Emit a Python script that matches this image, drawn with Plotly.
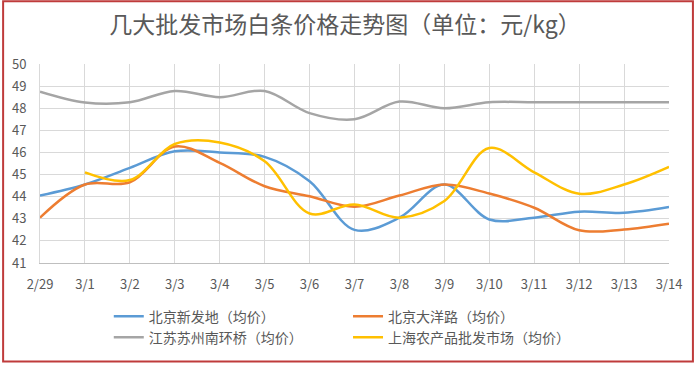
import plotly.graph_objects as go

dates = ["2/29", "3/1", "3/2", "3/3", "3/4", "3/5", "3/6", "3/7", "3/8", "3/9", "3/10", "3/11", "3/12", "3/13", "3/14"]
xinfadi = [44.05, 44.55, 45.3, 46.05, 46.0, 45.8, 44.7, 42.5, 43.05, 44.55, 42.97, 43.05, 43.32, 43.27, 43.53]
dayanglu = [43.05, 44.55, 44.65, 46.27, 45.53, 44.47, 44.02, 43.54, 44.05, 44.55, 44.14, 43.5, 42.48, 42.52, 42.78]
nanhuanqiao = [48.75, 48.26, 48.27, 48.78, 48.5, 48.78, 47.78, 47.5, 48.3, 48.0, 48.27, 48.27, 48.27, 48.27, 48.27]
shanghai = [None, 45.1, 44.75, 46.38, 46.45, 45.6, 43.24, 43.65, 43.05, 43.8, 46.2, 45.1, 44.13, 44.55, 45.35]

names = ["北京新发地（均价）", "北京大洋路（均价）", "江苏苏州南环桥（均价）", "上海农产品批发市场（均价）"]
colors = ["#5B9BD5", "#ED7D31", "#A5A5A5", "#FFC000"]
series = [xinfadi, dayanglu, nanhuanqiao, shanghai]
legends = ["legend", "legend2", "legend3", "legend4"]

FONT = "Noto Sans CJK SC"
fig = go.Figure()
for name, col, ys, lg in zip(names, colors, series, legends):
    fig.add_trace(go.Scatter(
        x=list(range(len(dates))), y=ys, name=name, mode="lines",
        line=dict(color=col, width=2.5, shape="spline", smoothing=1),
        connectgaps=False, legend=lg, showlegend=True,
    ))

W, H = 696, 365
L, R, T, B = 38, 27, 64, 101
pw, ph = W - L - R, H - T - B

def px_x(p):
    return (p - L) / pw

def px_y(p):
    return (H - B - p) / ph

def leg(xp, yp):
    return dict(
        orientation="h", x=px_x(xp), y=px_y(yp), xanchor="left", yanchor="middle",
        font=dict(family=FONT, size=14, color="#595959"),
        bgcolor="rgba(0,0,0,0)", borderwidth=0, visible=True,
    )

fig.update_layout(
    width=W, height=H, showlegend=True,
    margin=dict(l=L, r=R, t=T, b=B),
    paper_bgcolor="white", plot_bgcolor="white",
    title=dict(text="几大批发市场白条价格走势图（单位：元/kg）", x=345 / W, xanchor="center",
               y=1 - 25 / H, yanchor="middle",
               font=dict(family=FONT, size=23, color="#595959")),
    xaxis=dict(tickmode="array", tickvals=list(range(len(dates))), ticktext=dates,
               range=[0, len(dates) - 1], showgrid=True, gridcolor="#D9D9D9", gridwidth=1,
               showline=True, linecolor="#BFBFBF", linewidth=1, zeroline=False,
               ticks="", ticklabelstandoff=9,
               tickfont=dict(family=FONT, size=13, color="#595959")),
    yaxis=dict(range=[41, 50], dtick=1, showgrid=True, gridcolor="#D9D9D9", gridwidth=1,
               showline=True, linecolor="#D9D9D9", zeroline=False, ticks="",
               ticklabelstandoff=10,
               tickfont=dict(family=FONT, size=13, color="#595959")),
    legend=leg(107, 318),
    legend2=leg(347, 318),
    legend3=leg(107, 339),
    legend4=leg(347, 339),
    shapes=[dict(type="rect", xref="paper", yref="paper",
                 x0=px_x(1), x1=px_x(693), y0=px_y(363), y1=px_y(1),
                 line=dict(color="#BF3B3B", width=2), fillcolor="rgba(0,0,0,0)")],
)

fig.write_html("out.html", config={"displayModeBar": False},
               post_script="document.body.style.margin='0';document.body.style.overflow='hidden';")
